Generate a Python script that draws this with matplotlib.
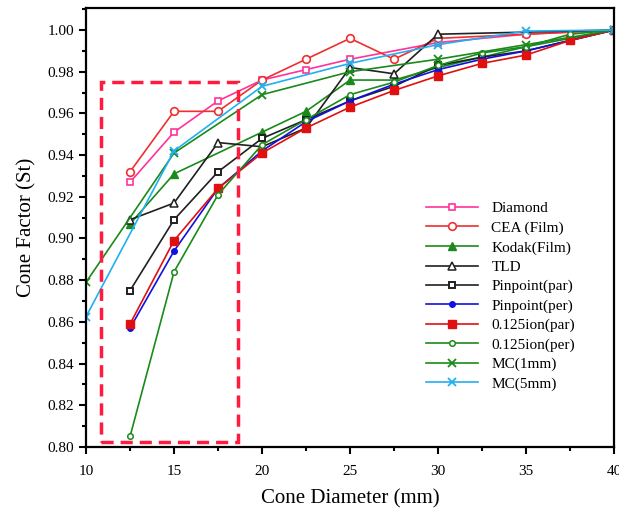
import matplotlib
matplotlib.use('Agg')
import matplotlib.pyplot as plt
from matplotlib.patches import Rectangle
from matplotlib.ticker import MultipleLocator

plt.rcParams['font.family'] = ['Liberation Serif', 'DejaVu Serif']

# cone factor data
diamond_x = [12.5, 15, 17.5, 20, 22.5, 25, 30, 35, 40]
diamond_y = [0.927, 0.951, 0.966, 0.976, 0.981, 0.986, 0.994, 0.998, 1.0]

cea_x = [12.5, 15, 17.5, 20, 22.5, 25, 27.5, 30, 35, 40]
cea_y = [0.932, 0.961, 0.961, 0.976, 0.986, 0.996, 0.986, 0.996, 0.998, 1.0]

kodak_x = [12.5, 15, 20, 22.5, 25, 27.5, 30, 35, 40]
kodak_y = [0.907, 0.931, 0.951, 0.961, 0.976, 0.976, 0.982, 0.992, 1.0]

tld_x = [12.5, 15, 17.5, 20, 22.5, 25, 27.5, 30, 40]
tld_y = [0.909, 0.917, 0.946, 0.944, 0.953, 0.982, 0.979, 0.998, 1.0]

fine_x = [12.5, 15, 17.5, 20, 22.5, 25, 27.5, 30, 32.5, 35, 37.5, 40]
pp_par_y = [0.875, 0.909, 0.932, 0.948, 0.957, 0.966, 0.973, 0.983, 0.987, 0.990, 0.995, 1.0]
pp_per_y = [0.857, 0.894, 0.924, 0.942, 0.956, 0.966, 0.974, 0.981, 0.986, 0.990, 0.995, 1.0]
ion_par_y = [0.859, 0.899, 0.924, 0.941, 0.953, 0.963, 0.971, 0.978, 0.984, 0.988, 0.995, 1.0]
ion_per_y = [0.805, 0.884, 0.921, 0.945, 0.957, 0.969, 0.975, 0.983, 0.989, 0.992, 0.998, 1.0]

mc_x = [10, 15, 20, 25, 30, 35, 40]
mc1_y = [0.879, 0.941, 0.969, 0.980, 0.986, 0.993, 1.0]
mc5_y = [0.8625, 0.942, 0.973, 0.984, 0.993, 0.9995, 1.0]

fig = plt.figure(figsize=(6.19, 5.09), dpi=100)
ax = fig.add_axes([0.139, 0.122, 0.853, 0.862])

lw = 1.2
ax.plot(diamond_x, diamond_y, color='#ff3399', lw=lw, marker='s', ms=5, mfc='white', mew=1.2, label='Diamond')
ax.plot(cea_x, cea_y, color='#ee3030', lw=lw, marker='o', ms=5.5, mfc='white', mew=1.2, label='CEA (Film)')
ax.plot(kodak_x, kodak_y, color='#1a8a1a', lw=lw, marker='^', ms=5.5, label='Kodak(Film)')
ax.plot(tld_x, tld_y, color='#202020', lw=lw, marker='^', ms=5.5, mfc='white', mew=1.1, label='TLD')
ax.plot(fine_x, pp_par_y, color='#202020', lw=lw, marker='s', ms=5, mfc='white', mew=1.4, label='Pinpoint(par)')
ax.plot(fine_x, pp_per_y, color='#1010e0', lw=lw, marker='o', ms=4, label='Pinpoint(per)')
ax.plot(fine_x, ion_par_y, color='#e01010', lw=lw, marker='s', ms=6, label='0.125ion(par)')
ax.plot(fine_x, ion_per_y, color='#1a8a1a', lw=lw, marker='o', ms=4, mfc='white', mew=1.1, label='0.125ion(per)')
ax.plot(mc_x, mc1_y, color='#1a8a1a', lw=lw, marker='x', ms=5.5, mew=1.3, label='MC(1mm)')
ax.plot(mc_x, mc5_y, color='#20b0f0', lw=lw, marker='x', ms=5.5, mew=1.3, label='MC(5mm)')

# dashed box around the small cones
ax.add_patch(Rectangle((10.85, 0.8024), 7.8, 0.1726, fill=False, edgecolor='#ff1a40',
                       lw=2.5, linestyle=(0, (3.5, 2.0)), zorder=5))

ax.set_xlim(10, 40)
ax.set_ylim(0.80, 1.0105)
ax.xaxis.set_major_locator(MultipleLocator(5))
ax.xaxis.set_minor_locator(MultipleLocator(2.5))
ax.yaxis.set_major_locator(MultipleLocator(0.02))
ax.yaxis.set_minor_locator(MultipleLocator(0.01))
ax.yaxis.set_major_formatter(plt.FormatStrFormatter('%.2f'))
ax.tick_params(which='both', direction='out', top=False, right=False, labelsize=11, width=1.5)
ax.tick_params(which='major', length=5)
ax.tick_params(which='minor', length=3)
ax.tick_params(axis='x', pad=8)
for s in ax.spines.values():
    s.set_linewidth(1.6)

ax.set_xlabel('Cone Diameter (mm)', fontsize=15, labelpad=8)
ax.set_ylabel('Cone Factor (St)', fontsize=15, labelpad=8)

ax.legend(loc='upper left', bbox_to_anchor=(0.617, 0.59), frameon=False, fontsize=11,
          handlelength=3.4, labelspacing=0.37, handletextpad=0.9)

fig.savefig('out.png', dpi=100)
